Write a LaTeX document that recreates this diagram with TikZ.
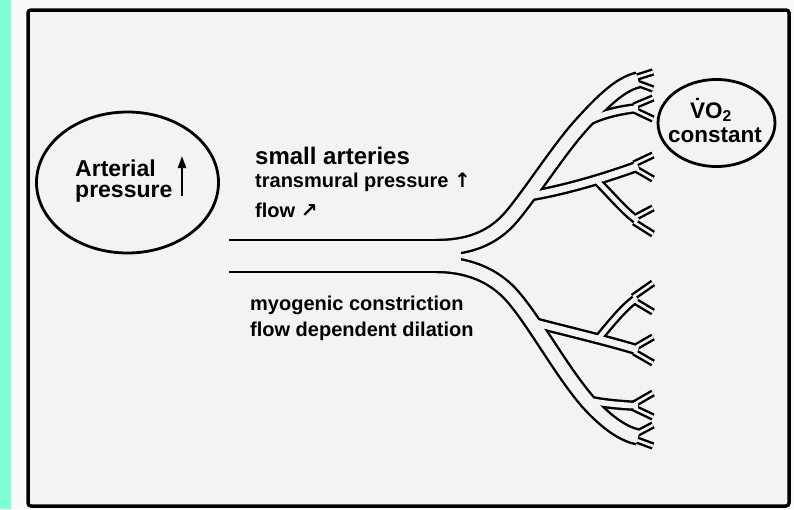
\documentclass[tikz,border=0pt]{standalone}
\usepackage{fontspec}
\setmainfont{Liberation Sans}
\newfontfamily\arrowfont{DejaVu Sans}
\usetikzlibrary{arrows.meta,shapes.geometric,positioning}
\definecolor{paper}{RGB}{243,243,243}
\definecolor{margin}{RGB}{250,250,250}
\definecolor{strip}{RGB}{127,255,212}
\tikzset{
  panel/.style={draw=black,line width=3.5pt,rounded corners=3pt,fill=paper},
  bubble/.style={draw=black,ellipse,line width=2.8pt,inner sep=0pt},
  note/.style={font=\bfseries\fontsize{20}{20}\selectfont,anchor=base west,inner sep=0pt},
  head/.style={note,font=\bfseries\fontsize{24}{24}\selectfont},
  big/.style={note,font=\bfseries\fontsize{22.5}{22.5}\selectfont},
  wall/.style={draw=black,line width={#1pt+2.4pt}},
  lumen/.style={draw=paper,line width={#1pt-2.4pt}},
  rise/.style={line width=2.4pt,-{Triangle[length=12pt,width=8pt]}}
}
\newcommand\arterytree[1]{%
  \draw[#1=32] (229,256) -- (461,256);
  \draw[#1=15] (436,247.5) .. controls (466,247.5) and (492,240) .. (512,216)
    .. controls (532,192) and (560,148) .. (582,124)
    .. controls (602,102) and (620,84) .. (638,80);
  \draw[#1=15] (436,264.5) .. controls (466,264.5) and (494,274) .. (514,298)
    .. controls (536,324) and (562,372) .. (588,402)
    .. controls (608,424) and (624,434) .. (638,437);
  \draw[#1=9] (529,196) .. controls (565,190) and (605,178) .. (638,166);
  \draw[#1=7] (596,180) .. controls (612,196) and (625,212) .. (638,221);
  \draw[#1=8] (583,124) .. controls (600,114) and (620,110) .. (638,108);
  \draw[#1=9] (532,322) .. controls (570,332) and (605,340) .. (638,350);
  \draw[#1=7] (598,339) .. controls (612,322) and (625,306) .. (637,298);
  \draw[#1=8] (586,400) .. controls (605,404) and (622,405) .. (638,406);
  \draw[#1=5] (634,78) -- (653,72) (634,82) -- (653,89)
    (634,106) -- (653,98) (634,110) -- (653,119)
    (634,164) -- (653,155) (634,168) -- (653,179)
    (634,218) -- (653,208) (634,222) -- (653,234)
    (633,297) -- (653,283) (633,300) -- (653,312)
    (634,348) -- (653,337) (634,352) -- (653,363)
    (634,404) -- (653,393) (634,408) -- (653,417)
    (634,435) -- (653,425) (634,439) -- (653,446);
}

\begin{document}
\begin{tikzpicture}[x=1pt,y=-1pt]
  \useasboundingbox (0,0) rectangle (794,509);
  \fill[margin] (0,0) rectangle (794,509);
  \fill[strip] (0,0) rectangle (11,509);
  \draw[panel] (28,10) rectangle (789,506);

  \node[bubble,minimum width=182pt,minimum height=141pt] (art) at (127.5,182.5) {};
  \node[big,font=\bfseries\fontsize{23}{23}\selectfont] (artl) at (75,176) {Arterial};
  \node[big,font=\bfseries\fontsize{23}{23}\selectfont] (presl) at (75,197) {pressure};
  \draw[rise] (182,196) -- (182,156);

  \node[bubble,minimum width=117pt,minimum height=87pt] (vo) at (716.5,123) {};
  \node[big,anchor=base] (vol) at (711,118) {\.VO\textsubscript{2}};
  \node[big,anchor=base] (const) at (715,142) {constant};

  \node[head] (small) at (255,164) {small arteries};
  \node[note] (trans) at (255,187) {transmural pressure {\arrowfont\bfseries ↑}};
  \node[note] (flow) at (255,217) {flow {\arrowfont\bfseries ↗}};
  \node[note] (myo) at (250,310) {myogenic constriction};
  \node[note] (dil) at (250,336) {flow dependent dilation};

  \arterytree{wall}
  \arterytree{lumen}
\end{tikzpicture}
\end{document}
